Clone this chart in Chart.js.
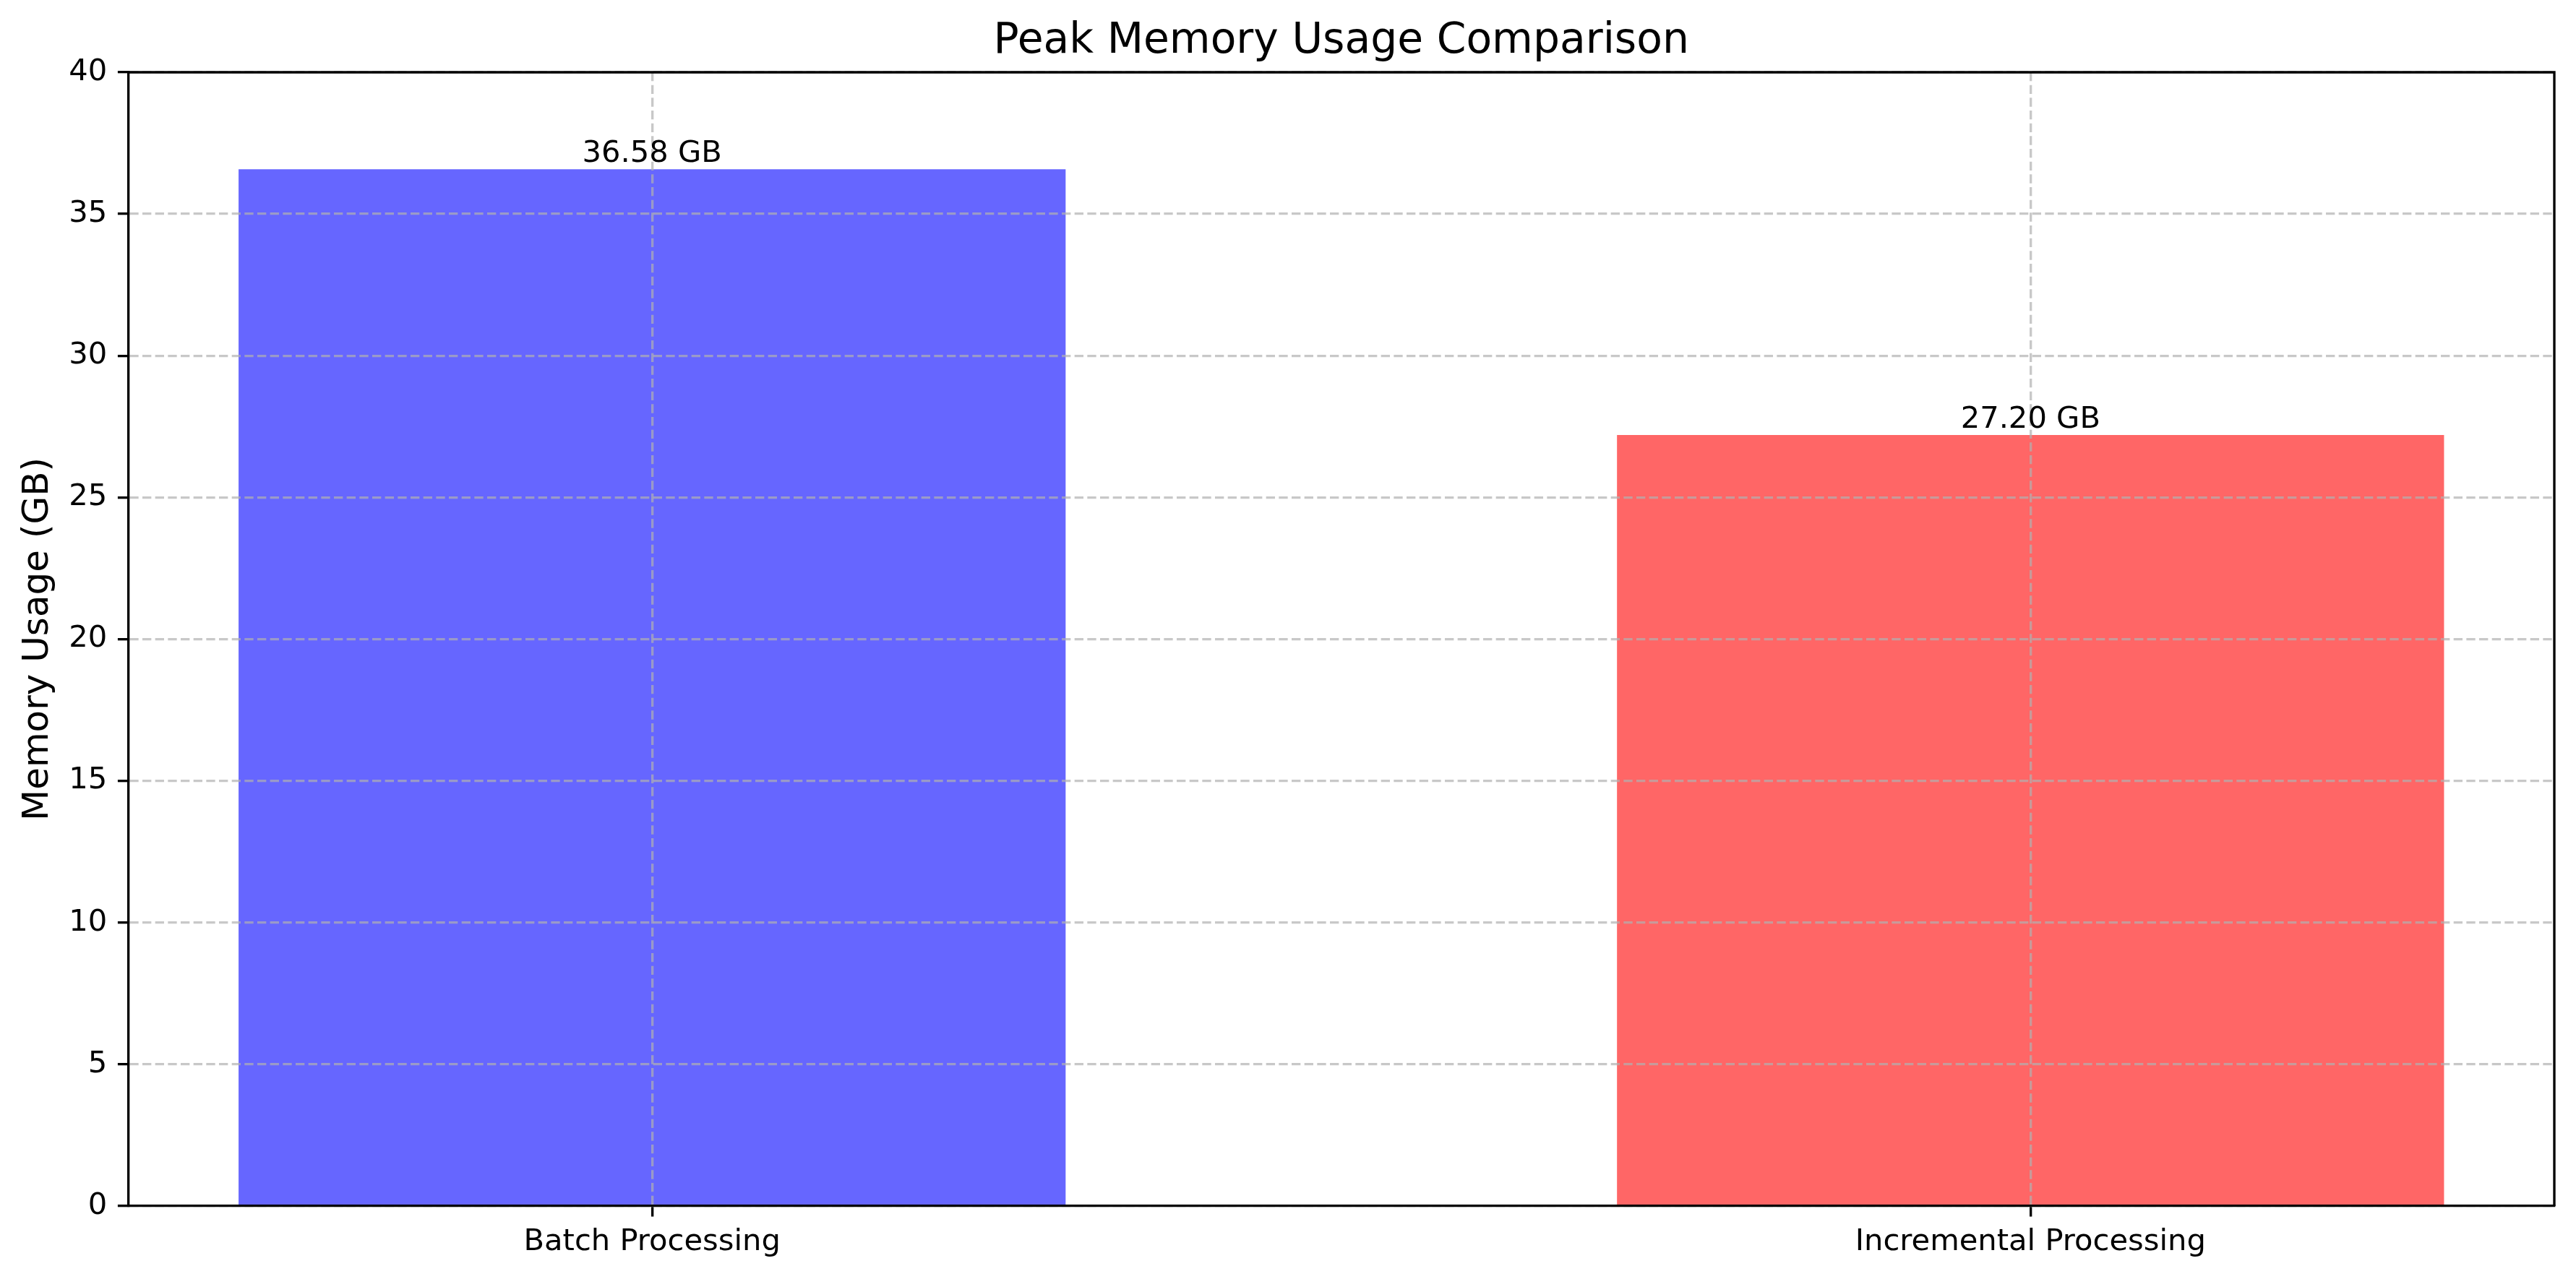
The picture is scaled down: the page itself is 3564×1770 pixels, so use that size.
<!DOCTYPE html>
<html>
<head>
<meta charset="utf-8">
<script src="https://cdn.jsdelivr.net/npm/chart.js@4/dist/chart.umd.min.js"></script>
<style>
  html, body { margin: 0; padding: 0; background: #ffffff; }
  #wrap { width: 3564px; height: 1770px; position: relative; }
</style>
</head>
<body>
<div id="wrap"><canvas id="c" width="3564" height="1770"></canvas></div>
<script>
const categories = ["Batch Processing", "Incremental Processing"];
const memoryGB = [36.58, 27.20];
const barColors = ["#6666ff", "#ff6666"];
const valueLabels = ["36.58 GB", "27.20 GB"];
const yTickStep = 5;
const yMin = 0;
const yMax = 40;

const FONT = "'DejaVu Sans', sans-serif";
const PT = 300 / 72;

const framePlugin = {
  id: 'frame',
  afterDraw(chart) {
    const {ctx, chartArea: a} = chart;
    ctx.save();
    ctx.strokeStyle = '#000';
    ctx.lineWidth = 0.8 * PT;
    ctx.beginPath();
    ctx.moveTo(a.left, a.top);
    ctx.lineTo(a.right, a.top);
    ctx.lineTo(a.right, a.bottom);
    ctx.stroke();
    ctx.restore();
  }
};

const labelPlugin = {
  id: 'barLabels',
  afterDraw(chart) {
    const {ctx} = chart;
    const meta = chart.getDatasetMeta(0);
    const fs = 10 * PT;
    ctx.save();
    ctx.font = fs + 'px ' + FONT;
    ctx.fillStyle = '#000';
    ctx.textAlign = 'center';
    ctx.textBaseline = 'alphabetic';
    meta.data.forEach((bar, i) => {
      ctx.fillText(valueLabels[i], bar.x, bar.y - 0.236 * fs);
    });
    ctx.restore();
  }
};

const gridColor = 'rgba(176,176,176,0.7)';
const dash = [3.7 * 0.8 * PT, 1.6 * 0.8 * PT];

new Chart(document.getElementById('c'), {
  type: 'bar',
  data: {
    datasets: [{
      data: memoryGB.map((v, i) => ({x: i, y: v})),
      backgroundColor: barColors,
      borderWidth: 0,
      categoryPercentage: 1.0,
      barPercentage: 0.6
    }]
  },
  options: {
    responsive: false,
    devicePixelRatio: 1,
    animation: false,
    layout: { padding: { left: 0, right: 30, top: 0, bottom: 0 } },
    plugins: {
      legend: { display: false },
      tooltip: { enabled: false },
      title: {
        display: true,
        text: 'Peak Memory Usage Comparison',
        fullSize: false,
        color: '#000',
        font: { family: FONT, size: 14 * PT, weight: 'normal', lineHeight: 1.2 },
        padding: { top: 22.5, bottom: 7.5 }
      }
    },
    scales: {
      x: {
        type: 'linear',
        position: 'bottom',
        min: -0.38,
        max: 1.38,
        offset: false,
        afterBuildTicks(scale) {
          scale.ticks = categories.map((_, i) => ({ value: i }));
        },
        afterFit(scale) { scale.height = 101; },
        ticks: {
          autoSkip: false,
          maxRotation: 0,
          minRotation: 0,
          padding: 11,
          color: '#000',
          font: { family: FONT, size: 10 * PT, lineHeight: 1.2 },
          callback: (v) => categories[v] !== undefined ? categories[v] : ''
        },
        grid: {
          offset: false,
          z: 1,
          color: gridColor,
          lineWidth: 0.8 * PT,
          drawTicks: true,
          tickLength: 3.5 * PT,
          tickColor: '#000',
          tickWidth: 0.8 * PT,
          tickBorderDash: []
        },
        border: { display: true, z: 2, color: '#000', width: 0.8 * PT, dash: dash }
      },
      y: {
        type: 'linear',
        position: 'left',
        min: yMin,
        max: yMax,
        afterFit(scale) { scale.width = 177.5; },
        ticks: {
          stepSize: yTickStep,
          padding: 3.5 * PT,
          color: '#000',
          font: { family: FONT, size: 10 * PT, lineHeight: 1.2 }
        },
        grid: {
          z: 1,
          color: gridColor,
          lineWidth: 0.8 * PT,
          drawTicks: true,
          tickLength: 3.5 * PT,
          tickColor: '#000',
          tickWidth: 0.8 * PT,
          tickBorderDash: []
        },
        border: { display: true, z: 2, color: '#000', width: 0.8 * PT, dash: dash },
        title: {
          display: true,
          text: 'Memory Usage (GB)',
          color: '#000',
          font: { family: FONT, size: 12 * PT, lineHeight: 1.2 },
          padding: { top: 23, bottom: 0 }
        }
      }
    }
  },
  plugins: [framePlugin, labelPlugin]
});
</script>
</body>
</html>
